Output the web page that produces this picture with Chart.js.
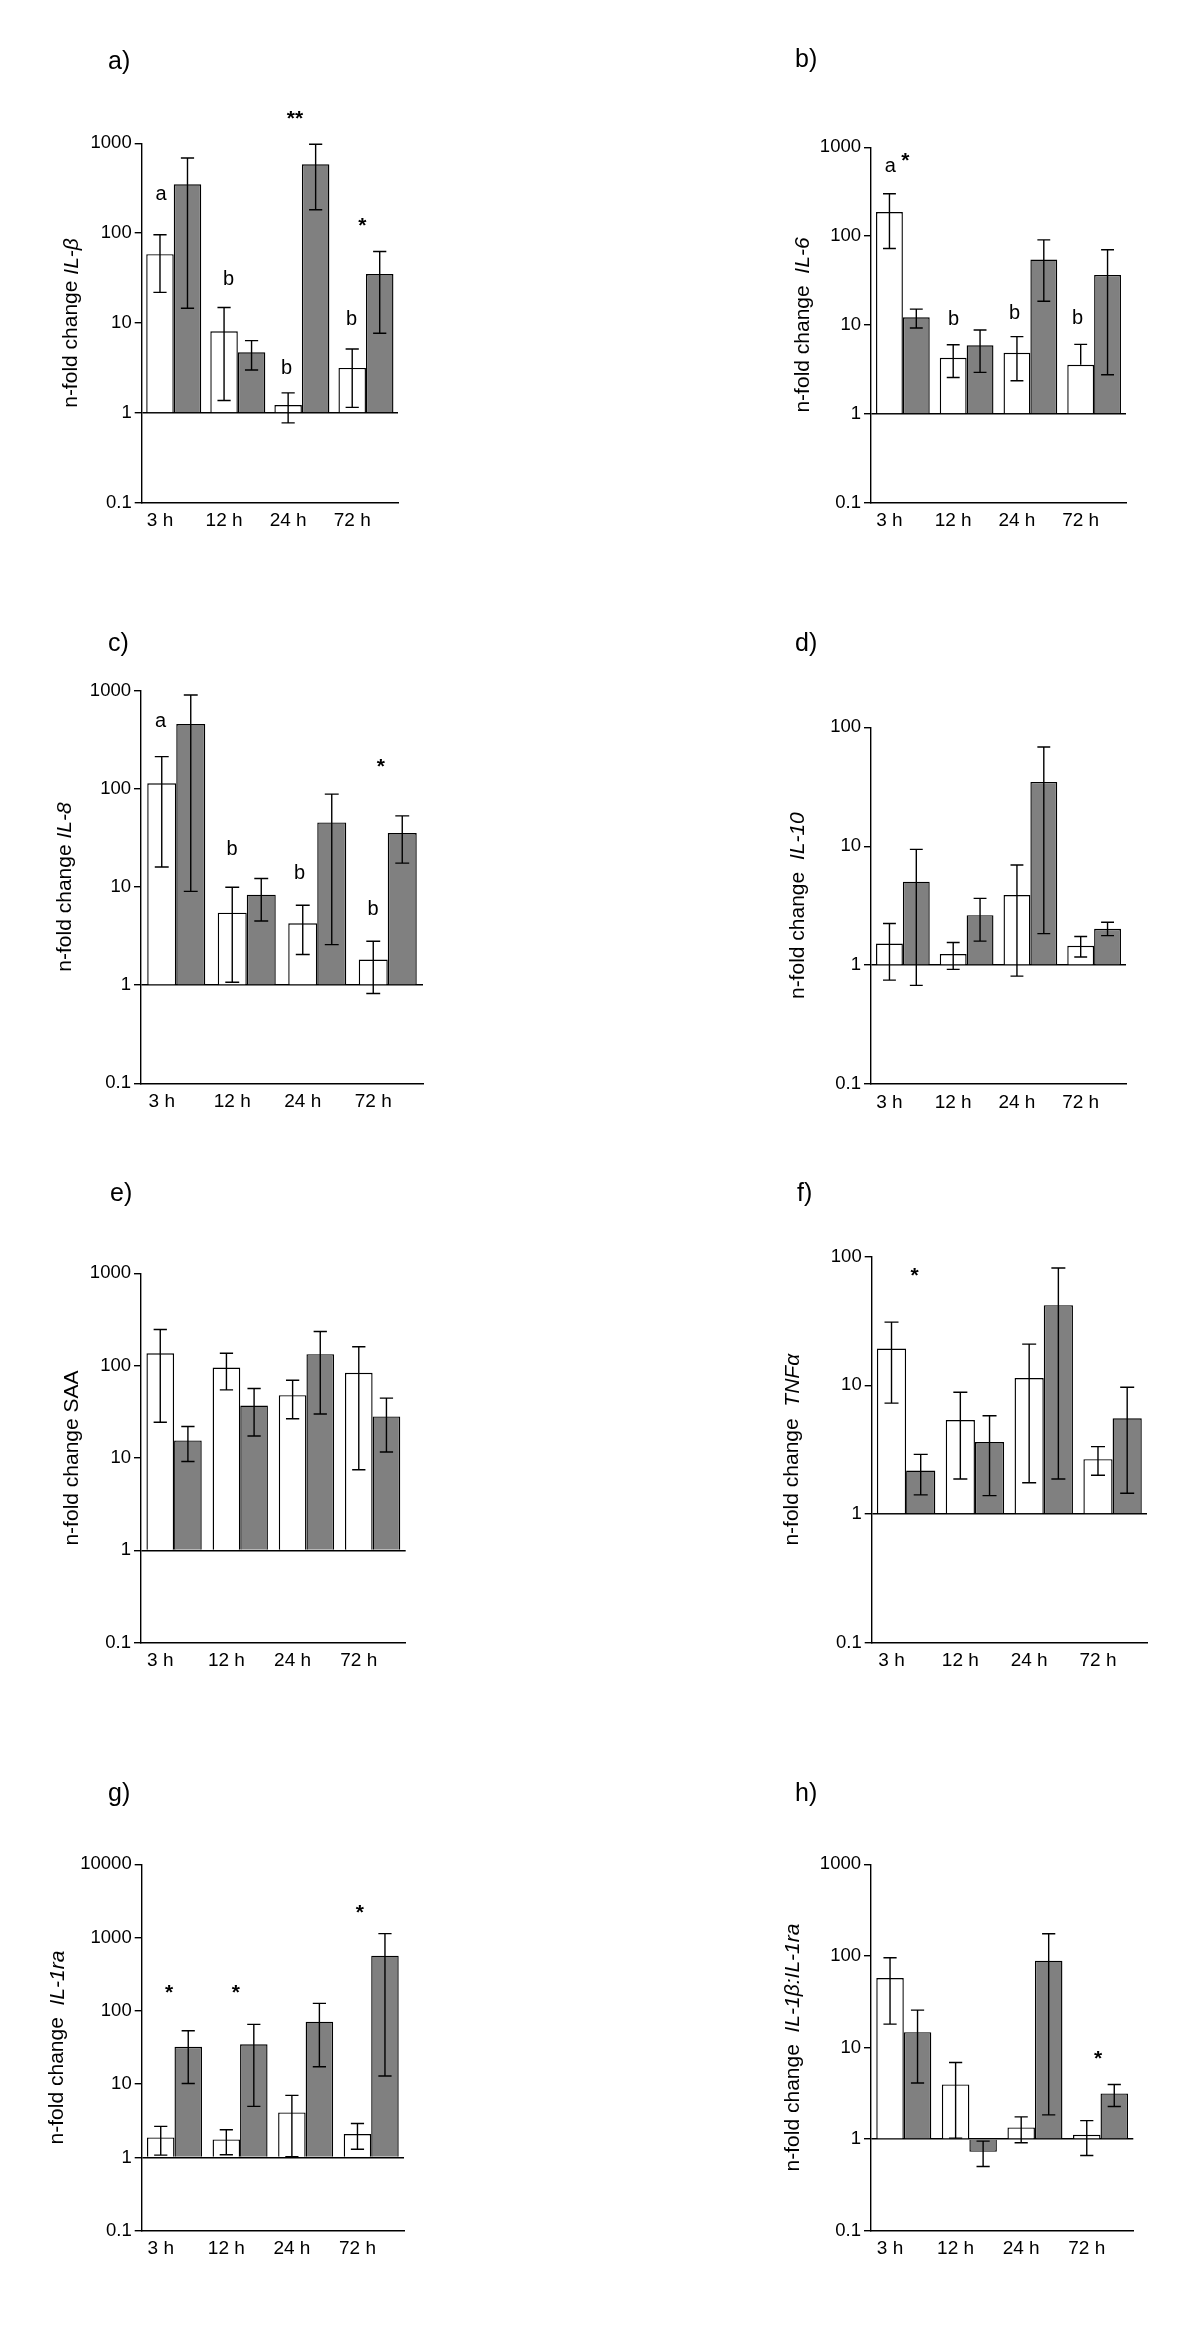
<!DOCTYPE html>
<html>
<head>
<meta charset="utf-8">
<script src="https://cdn.jsdelivr.net/npm/chart.js@4.4.1/dist/chart.umd.min.js"></script>
<style>
  html, body { margin: 0; padding: 0; background: #fff; }
  body { width: 1200px; height: 2346px; position: relative; overflow: hidden; }
  .cell { position: absolute; }
  .plabel { position: absolute; font: 25px "Liberation Sans", Arial, sans-serif; line-height: 28px; color: #000; white-space: pre; }
</style>
</head>
<body>
<script>
// ---------------- DATA ----------------
const CATEGORIES = ['3 h', '12 h', '24 h', '72 h'];

const TICKS_100 = [0.1, 1, 10, 100];
const TICKS_1000 = [0.1, 1, 10, 100, 1000];
const TICKS_10000 = [0.1, 1, 10, 100, 1000, 10000];

// a) IL-β
const A_WHITE = [58.4, 8.08, 1.22, 3.16];
const A_WHITE_LO = [21.9, 1.37, 0.774, 1.15];
const A_WHITE_HI = [95.8, 14.9, 1.67, 5.14];
const A_GRAY = [350, 4.72, 584, 35.0];
const A_GRAY_LO = [14.6, 3.0, 182, 7.68];
const A_GRAY_HI = [687, 6.36, 975, 62.6];

// b) IL-6
const B_WHITE = [186.6, 4.28, 4.87, 3.57];
const B_WHITE_LO = [72.6, 2.57, 2.36, null];
const B_WHITE_HI = [300, 6.0, 7.39, 6.05];
const B_GRAY = [12.2, 5.9, 54.6, 36.6];
const B_GRAY_LO = [9.25, 2.93, 18.5, 2.75];
const B_GRAY_HI = [15.1, 8.78, 90.9, 70.2];

// c) IL-8
const C_WHITE = [114, 5.48, 4.27, 1.82];
const C_WHITE_LO = [16.0, 1.07, 2.05, 0.823];
const C_WHITE_HI = [213, 9.93, 6.51, 2.8];
const C_GRAY = [458, 8.36, 45.5, 35.4];
const C_GRAY_LO = [9.03, 4.51, 2.59, 17.5];
const C_GRAY_HI = [903, 12.2, 88.3, 53.1];

// d) IL-10
const D_WHITE = [1.52, 1.24, 3.88, 1.455];
const D_WHITE_LO = [0.748, 0.92, 0.808, 1.17];
const D_WHITE_HI = [2.24, 1.55, 6.94, 1.74];
const D_GRAY = [5.03, 2.63, 34.7, 2.02];
const D_GRAY_LO = [0.675, 1.59, 1.84, 1.77];
const D_GRAY_HI = [9.4, 3.64, 68.3, 2.29];

// e) SAA
const E_WHITE = [136, 95.5, 47.9, 83.6];
const E_WHITE_LO = [24.4, 54.7, 26.6, 7.46];
const E_WHITE_HI = [246, 136, 69.6, 160];
const E_GRAY = [15.5, 37.0, 133, 28.2];
const E_GRAY_LO = [9.18, 17.3, 29.9, 11.6];
const E_GRAY_HI = [21.9, 56.6, 234, 44.5];

// f) TNFα
const F_WHITE = [19.3, 5.38, 11.4, 2.67];
const F_WHITE_LO = [7.28, 1.87, 1.75, 2.0];
const F_WHITE_HI = [31.0, 8.85, 20.9, 3.34];
const F_GRAY = [2.18, 3.63, 42.0, 5.54];
const F_GRAY_LO = [1.41, 1.39, 1.87, 1.45];
const F_GRAY_HI = [2.91, 5.81, 81.7, 9.68];

// g) IL-1ra
const G_WHITE = [1.875, 1.76, 4.11, 2.08];
const G_WHITE_LO = [1.076, 1.087, 1.02, 1.29];
const G_WHITE_HI = [2.65, 2.39, 7.02, 2.91];
const G_GRAY = [32.4, 34.9, 71.1, 566];
const G_GRAY_LO = [10.2, 4.97, 17.3, 12.9];
const G_GRAY_HI = [53.6, 65.4, 126.6, 1131];

// h) IL-1β:IL-1ra
const H_WHITE = [57.3, 3.95, 1.34, 1.115];
const H_WHITE_LO = [18.0, 1.025, 0.912, 0.663];
const H_WHITE_HI = [95.5, 6.87, 1.75, 1.59];
const H_GRAY = [14.7, 0.727, 88.7, 3.15];
const H_GRAY_LO = [4.09, 0.503, 1.84, 2.27];
const H_GRAY_HI = [25.6, 0.951, 174.7, 3.95];

// significance marks: text, category index, offset (in bar widths from group centre), y value
const A_MARKS = [['a', 0, -0.46, 267], ['b', 1, -0.34, 30.8], ['b', 2, -0.56, 3.08], ['**', 2, -0.25, 2065], ['b', 3, -0.52, 10.9], ['*', 3, -0.13, 135]];
const B_MARKS = [['a', 0, -0.47, 605], ['*', 0, 0.09, 785], ['b', 1, -0.49, 11.5], ['b', 2, -0.59, 13.4], ['b', 3, -0.62, 11.8]];
const C_MARKS = [['a', 0, -0.54, 484], ['b', 1, -0.51, 24.0], ['b', 2, -0.61, 13.7], ['b', 3, -0.51, 5.97], ['*', 3, -0.24, 185]];
const D_MARKS = [];
const E_MARKS = [];
const F_MARKS = [['*', 0, 0.29, 76.5]];
const G_MARKS = [['*', 0, -0.2, 203], ['*', 1, -0.15, 203], ['*', 3, -0.41, 2507]];
const H_MARKS = [['*', 3, -0.09, 8.27]];

// axis titles: [text, italic]
const A_TITLE = [['n-fold change ', false], ['IL-\u03B2', true]];
const B_TITLE = [['n-fold change  ', false], ['IL-6', true]];
const C_TITLE = [['n-fold change ', false], ['IL-8', true]];
const D_TITLE = [['n-fold change  ', false], ['IL-10', true]];
const E_TITLE = [['n-fold change SAA', false]];
const F_TITLE = [['n-fold change  ', false], ['TNF\u03B1', true]];
const G_TITLE = [['n-fold change  ', false], ['IL-1ra', true]];
const H_TITLE = [['n-fold change  ', false], ['IL-1\u03B2:IL-1ra', true]];

// ---------------- LAYOUT ----------------
const FONT = '"Liberation Sans", Arial, sans-serif';
const PANELS = [
  { label: 'a)', ticks: TICKS_1000, w: A_WHITE, wl: A_WHITE_LO, wh: A_WHITE_HI, g: A_GRAY, gl: A_GRAY_LO, gh: A_GRAY_HI, marks: A_MARKS, title: A_TITLE,
    cell: [0, 0, 600, 585], axisX: 141.7, topY: 143.3, bottomY: 502.7, rightX: 398, pair: 55, lx: 108, ly: 60, toff: 70 },
  { label: 'b)', ticks: TICKS_1000, w: B_WHITE, wl: B_WHITE_LO, wh: B_WHITE_HI, g: B_GRAY, gl: B_GRAY_LO, gh: B_GRAY_HI, marks: B_MARKS, title: B_TITLE,
    cell: [600, 0, 600, 585], axisX: 871, topY: 147.3, bottomY: 502.7, rightX: 1126, pair: 53.7, lx: 795, ly: 58, toff: 68 },
  { label: 'c)', ticks: TICKS_1000, w: C_WHITE, wl: C_WHITE_LO, wh: C_WHITE_HI, g: C_GRAY, gl: C_GRAY_LO, gh: C_GRAY_HI, marks: C_MARKS, title: C_TITLE,
    cell: [0, 585, 600, 565], axisX: 141, topY: 690.7, bottomY: 1083.3, rightX: 423, pair: 58, lx: 108, ly: 642, toff: 76 },
  { label: 'd)', ticks: TICKS_100, w: D_WHITE, wl: D_WHITE_LO, wh: D_WHITE_HI, g: D_GRAY, gl: D_GRAY_LO, gh: D_GRAY_HI, marks: D_MARKS, title: D_TITLE,
    cell: [600, 585, 600, 565], axisX: 871, topY: 727.3, bottomY: 1084, rightX: 1126, pair: 53.7, lx: 795, ly: 642, toff: 73 },
  { label: 'e)', ticks: TICKS_1000, w: E_WHITE, wl: E_WHITE_LO, wh: E_WHITE_HI, g: E_GRAY, gl: E_GRAY_LO, gh: E_GRAY_HI, marks: E_MARKS, title: E_TITLE,
    cell: [0, 1150, 600, 580], axisX: 141, topY: 1273.3, bottomY: 1642.7, rightX: 405.7, pair: 55.3, lx: 110, ly: 1192, toff: 69 },
  { label: 'f)', ticks: TICKS_100, w: F_WHITE, wl: F_WHITE_LO, wh: F_WHITE_HI, g: F_GRAY, gl: F_GRAY_LO, gh: F_GRAY_HI, marks: F_MARKS, title: F_TITLE,
    cell: [600, 1150, 600, 580], axisX: 871.7, topY: 1256.7, bottomY: 1642.7, rightX: 1147, pair: 58.4, lx: 797, ly: 1192, toff: 79 },
  { label: 'g)', ticks: TICKS_10000, w: G_WHITE, wl: G_WHITE_LO, wh: G_WHITE_HI, g: G_GRAY, gl: G_GRAY_LO, gh: G_GRAY_HI, marks: G_MARKS, title: G_TITLE,
    cell: [0, 1730, 600, 616], axisX: 141.7, topY: 1864.3, bottomY: 2230.7, rightX: 404, pair: 55, lx: 108, ly: 1792, toff: 84 },
  { label: 'h)', ticks: TICKS_1000, w: H_WHITE, wl: H_WHITE_LO, wh: H_WHITE_HI, g: H_GRAY, gl: H_GRAY_LO, gh: H_GRAY_HI, marks: H_MARKS, title: H_TITLE,
    cell: [600, 1730, 600, 616], axisX: 871, topY: 1864.3, bottomY: 2230.7, rightX: 1133.3, pair: 55, lx: 795, ly: 1792, toff: 78 }
];

Chart.defaults.font.family = FONT;
Chart.defaults.color = '#000';

const YW = 70, XH = 40, LW = 1.4;

const errorBars = {
  id: 'errorBars',
  afterDatasetsDraw(chart) {
    const ctx = chart.ctx, ys = chart.scales.y;
    ctx.save();
    ctx.strokeStyle = '#000';
    ctx.lineWidth = LW;
    chart.data.datasets.forEach((ds, di) => {
      const meta = chart.getDatasetMeta(di);
      meta.data.forEach((bar, i) => {
        const hi = ds.errorHigh[i], lo = ds.errorLow[i];
        const x = bar.x, cap = bar.width * 0.24;
        const yHi = ys.getPixelForValue(hi);
        const yLo = ys.getPixelForValue(lo == null ? ds.data[i] : lo);
        ctx.beginPath();
        ctx.moveTo(x, yHi); ctx.lineTo(x, yLo);
        ctx.moveTo(x - cap, yHi); ctx.lineTo(x + cap, yHi);
        if (lo != null) { ctx.moveTo(x - cap, yLo); ctx.lineTo(x + cap, yLo); }
        ctx.stroke();
      });
    });
    ctx.restore();
  }
};

function overlay(p) {
  return {
    id: 'overlay',
    afterDraw(chart) {
      const ctx = chart.ctx, ca = chart.chartArea;
      const xs = chart.scales.x, ys = chart.scales.y;
      // axis title with mixed fonts
      ctx.save();
      ctx.fillStyle = '#000';
      ctx.translate(ca.left - p.toff, (ca.top + ca.bottom) / 2);
      ctx.rotate(-Math.PI / 2);
      ctx.textBaseline = 'middle';
      ctx.textAlign = 'left';
      let total = 0;
      const widths = p.title.map(([t, it]) => {
        ctx.font = (it ? 'italic ' : '') + '21px ' + FONT;
        const w = ctx.measureText(t).width; total += w; return w;
      });
      let x = -total / 2;
      p.title.forEach(([t, it], k) => {
        ctx.font = (it ? 'italic ' : '') + '21px ' + FONT;
        ctx.fillText(t, x, 0);
        x += widths[k];
      });
      ctx.restore();
      // significance marks
      ctx.save();
      ctx.fillStyle = '#000';
      ctx.textAlign = 'center';
      ctx.textBaseline = 'middle';
      const bw = chart.getDatasetMeta(0).data[0].width;
      p.marks.forEach(([t, c, dx, y]) => {
        const star = t.indexOf('*') >= 0;
        ctx.font = (star ? 'bold 21px ' : '20px ') + FONT;
        const px = xs.getPixelForValue(c) + dx * bw;
        const py = ys.getPixelForValue(y) + (star ? 4.5 : 0);
        ctx.fillText(t, px, py);
      });
      ctx.restore();
    }
  };
}

PANELS.forEach(p => {
  const [cl, ct, cw, ch] = p.cell;
  const div = document.createElement('div');
  div.className = 'cell';
  div.style.left = cl + 'px'; div.style.top = ct + 'px';
  div.style.width = cw + 'px'; div.style.height = ch + 'px';
  const cv = document.createElement('canvas');
  cv.width = cw; cv.height = ch;
  cv.style.width = cw + 'px'; cv.style.height = ch + 'px';
  div.appendChild(cv);
  document.body.appendChild(div);

  const lab = document.createElement('div');
  lab.className = 'plabel';
  lab.textContent = p.label;
  lab.style.left = p.lx + 'px';
  lab.style.top = (p.ly - 14) + 'px';
  document.body.appendChild(lab);

  const catW = (p.rightX - p.axisX) / CATEGORIES.length;
  const catPct = p.pair / catW;
  const barW = p.pair / 2;

  new Chart(cv, {
    type: 'bar',
    data: {
      labels: CATEGORIES,
      datasets: [
        { data: p.w, errorLow: p.wl, errorHigh: p.wh, backgroundColor: '#ffffff', borderColor: '#000', borderWidth: LW, base: 1 },
        { data: p.g, errorLow: p.gl, errorHigh: p.gh, backgroundColor: '#808080', borderColor: '#000', borderWidth: LW, base: 1 }
      ]
    },
    options: {
      responsive: false,
      animation: false,
      events: [],
      devicePixelRatio: 1,
      layout: {
        padding: {
          left: p.axisX - cl - YW,
          top: p.topY - ct,
          right: cl + cw - p.rightX,
          bottom: ct + ch - p.bottomY - XH
        }
      },
      datasets: { bar: { barPercentage: 1, categoryPercentage: catPct } },
      plugins: { legend: { display: false }, tooltip: { enabled: false } },
      scales: {
        x: {
          type: 'category',
          offset: true,
          grid: { display: false, drawTicks: false },
          border: { display: true, color: '#000', width: LW },
          ticks: { font: { size: 19 }, color: '#000', padding: 7, labelOffset: -barW / 2, autoSkip: false, maxRotation: 0 },
          afterFit: s => { s.height = XH; }
        },
        y: {
          type: 'logarithmic',
          min: p.ticks[0],
          max: p.ticks[p.ticks.length - 1],
          afterBuildTicks: s => { s.ticks = p.ticks.map(v => ({ value: v })); },
          grid: {
            color: c => (c.tick && c.tick.value === 1) ? '#000' : 'rgba(0,0,0,0)',
            lineWidth: LW, drawTicks: true, tickLength: 7, tickColor: '#000', tickWidth: LW
          },
          border: { display: true, color: '#000', width: LW },
          ticks: { font: { size: 18.5 }, color: '#000', padding: 3, autoSkip: false, callback: v => String(v) },
          afterFit: s => { s.width = YW; }
        }
      }
    },
    plugins: [errorBars, overlay(p)]
  });
});
</script>
</body>
</html>
